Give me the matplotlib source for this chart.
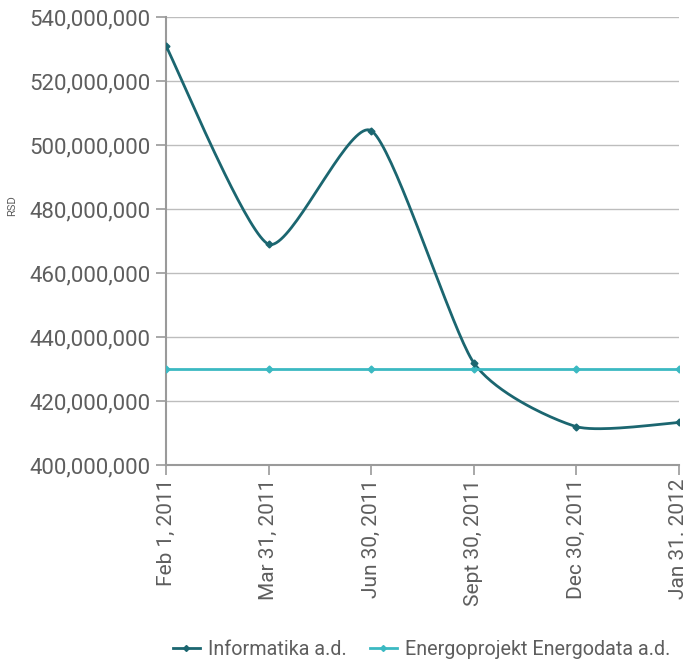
import matplotlib
matplotlib.use("Agg")
import matplotlib.pyplot as plt
import numpy as np
from matplotlib.ticker import FuncFormatter
from matplotlib.lines import Line2D

plt.rcParams['font.family'] = ['Roboto', 'DejaVu Sans']

dates = ['Feb 1, 2011', 'Mar 31, 2011', 'Jun 30, 2011', 'Sept 30, 2011',
         'Dec 30, 2011', 'Jan 31. 2012']
informatika = [531000000, 469000000, 504500000, 432000000, 412000000, 413300000]
energodata = [430000000, 430000000, 430000000, 430000000, 430000000, 430000000]

dark = '#1b6670'
light = '#3bb9c2'
grid_c = '#bdbdbd'
spine_c = '#9a9a9a'
text_c = '#5e5e5e'


def smooth(x, y, n=40, tension=0.32):
    # cardinal spline through the points (like a spreadsheet "smoothed line")
    x = np.asarray(x, float)
    y = np.asarray(y, float)
    xs, ys = [], []
    for i in range(len(x) - 1):
        p0 = i - 1 if i > 0 else i
        p3 = i + 2 if i + 2 < len(x) else i + 1
        m1x = tension * (x[i + 1] - x[p0])
        m1y = tension * (y[i + 1] - y[p0])
        m2x = tension * (x[p3] - x[i])
        m2y = tension * (y[p3] - y[i])
        t = np.linspace(0, 1, n)
        h00 = 2 * t**3 - 3 * t**2 + 1
        h10 = t**3 - 2 * t**2 + t
        h01 = -2 * t**3 + 3 * t**2
        h11 = t**3 - t**2
        xs.append(h00 * x[i] + h10 * m1x + h01 * x[i + 1] + h11 * m2x)
        ys.append(h00 * y[i] + h10 * m1y + h01 * y[i + 1] + h11 * m2y)
    return np.concatenate(xs), np.concatenate(ys)


fig = plt.figure(figsize=(6.87, 6.64), dpi=100)
ax = fig.add_axes([0.2416, 0.2997, 0.7464, 0.6747])

pos = np.arange(len(dates))
sx, sy = smooth(pos, informatika)
ax.plot(sx, sy, color=dark, lw=2, zorder=3)
ax.plot(pos, informatika, ls='none', marker='D', ms=3.5, color=dark, zorder=4)
ax.plot(pos, energodata, color=light, lw=2, marker='D', ms=3.5, zorder=3)

ax.set_xlim(0, len(dates) - 1)
ax.set_ylim(400000000, 540000000)
ax.set_yticks(np.arange(400000000, 540000001, 20000000))
ax.yaxis.set_major_formatter(FuncFormatter(lambda v, p: '{:,.0f}'.format(v)))
ax.set_xticks(pos)
ax.set_xticklabels(dates, rotation=90)

ax.grid(axis='y', color=grid_c, lw=1)
ax.set_axisbelow(True)
for s in ['top', 'right']:
    ax.spines[s].set_visible(False)
for s in ['left', 'bottom']:
    ax.spines[s].set_color(spine_c)
    ax.spines[s].set_linewidth(1.5)
ax.tick_params(axis='y', colors=spine_c, labelcolor=text_c, labelsize=16,
               length=7, width=1.2, pad=4)
ax.tick_params(axis='x', colors=spine_c, labelcolor=text_c, labelsize=15,
               length=7, width=1.2, pad=3)

ax.set_ylabel('RSD', fontsize=8, color=text_c)
ax.yaxis.set_label_coords(-0.29, 0.58)

handles = [Line2D([], [], color=dark, lw=2, marker='D', ms=3),
           Line2D([], [], color=light, lw=2, marker='D', ms=3)]
fig.legend(handles, ['Informatika a.d.', 'Energoprojekt Energodata a.d.'],
           loc='center', bbox_to_anchor=(0.6135, 0.022), ncol=2, frameon=False,
           fontsize=14.2, handlelength=1.37, columnspacing=1.17, handletextpad=0.4,
           labelcolor=text_c)

fig.savefig('out.png', dpi=100)
